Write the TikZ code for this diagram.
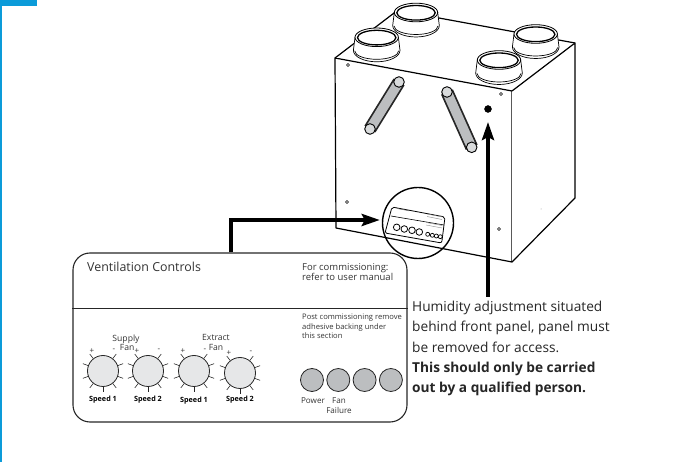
\documentclass[tikz,border=0pt]{standalone}
\usepackage{fontspec}
\setmainfont{Open Sans}
\usetikzlibrary{arrows.meta, positioning, calc}
\definecolor{edgeblue}{HTML}{0C9BD9}
\definecolor{knobgrey}{HTML}{E6E7E8}
\definecolor{ledgrey}{HTML}{BCBEC0}
\tikzset{
  boxline/.style={line width=1.2pt, line join=round, fill=white},
  panelbox/.style={draw=black!85, line width=1.1pt, rectangle, rounded corners=17pt, minimum width=334pt, minimum height=169pt, inner sep=0},
  knob/.style={draw=black!85, line width=0.8pt, circle, fill=knobgrey, minimum size=31pt, inner sep=0},
  led/.style={draw=black!85, line width=0.8pt, circle, fill=ledgrey, minimum size=23pt, inner sep=0},
  bigarrow/.style={-{Stealth[length=18pt, width=12pt, inset=3pt]}, line width=4pt, black},
  screw/.style={draw=black, circle, fill=white, line width=0.5pt, minimum size=3pt, inner sep=0},
  small/.style={inner sep=0, text=black!80}
}
\begin{document}
\begin{tikzpicture}[x=1pt, y=-1pt]
        \useasboundingbox (0,0) rectangle (673,462);
        % Blue page edge
        \fill[edgeblue] (0,0) rectangle (36.5,6);
        \fill[edgeblue] (0,0) rectangle (2.2,462);

        % Unit body
        \draw[boxline] (335,58) -- (512,91) -- (512,262) -- (336,228) -- cycle;
        \draw[boxline] (512,91) -- (575,43) -- (575,198) -- (512,262);
        \draw[boxline] (335,58) -- (397.5,10.4) -- (575,43);

        % Ducts on top
        \foreach \cx/\cy in {416/12.5, 535.7/34, 376.7/37.3, 499/60} {
          \begin{scope}[shift={(\cx,\cy)}]
            \draw[fill=white, line width=0.7pt] (-23.3,13) arc[start angle=180, end angle=0, x radius=23.3, y radius=11.5] -- (21.7,0) -- (-21.7,0) -- cycle;
            \draw[line width=0.7pt] (-22,13.5) arc[start angle=180, end angle=0, x radius=22, y radius=8.5];
            \draw[fill=white, line width=0.8pt] (0,0) ellipse[x radius=21.7, y radius=9.3];
            \draw[line width=1.3pt] (0,0.3) ellipse[x radius=19.2, y radius=7.3];
          \end{scope}
        }

        % Tubes on the front
        \foreach \ax/\ay/\bx/\by in {399/82/370/129, 447/92/471.7/147.3} {
          \draw[line width=13pt, black!85] (\ax,\ay) -- (\bx,\by);
          \draw[line width=9.5pt, ledgrey] (\ax,\ay) -- (\bx,\by);
          \draw[fill=knobgrey!70!ledgrey, line width=0.9pt] (\ax,\ay) circle[radius=5.3];
          \draw[fill=knobgrey!70!ledgrey, line width=0.9pt] (\bx,\by) circle[radius=5.3];
        }

        % Screws
        \node[screw] (screwa) at (348,65) {};
        \node[screw] (screwb) at (501,94) {};
        \node[screw] (screwc) at (347,202) {};
        \node[screw] (screwd) at (499,229) {};
        \fill[black!40] (541,209) circle[radius=0.5];
        \node[draw, circle, fill=black, minimum size=7pt, inner sep=0] (humdot) at (488,109) {};

        % Small panel in the circle
        \node[draw, circle, line width=1.4pt, minimum size=71pt, inner sep=0] (minicirc) at (418,223) {};
        \draw[line width=0.8pt, rounded corners=2pt] (392,207) -- (445,217) -- (441.7,243) -- (385,233) -- cycle;
        \draw[line width=0.6pt] (391,216) -- (444,225);
        \draw[line width=0.5pt, black!60] (397,208.5) -- (409,210.8);
        \draw[line width=0.4pt, black!45] (427,214) -- (442.5,217) (427,216.5) -- (442,219.5) (426,222.5) -- (442,225.5) (426,225) -- (442,228);
        \foreach \kx/\ky in {396.7/227.3, 404.3/229, 412/230.3, 419.3/232}
          \draw[line width=0.8pt] (\kx,\ky) circle[radius=3.3];
        \foreach \kx/\ky in {427.7/234.3, 432.3/235.3, 436.3/236, 440.3/236.7}
          \draw[line width=0.7pt] (\kx,\ky) circle[radius=2];

        % Ventilation panel
        \node[panelbox] (panel) at (240,337.5) {};
        \draw[black!85, line width=0.8pt] (panel.west |- 0,308) coordinate (divl) -- (divl -| panel.east);
        \node[small, anchor=west, font=\fontsize{12.4}{13}\selectfont] (vent) at (87,267) {Ventilation Controls};
        \node[small, anchor=north west, align=left, font=\fontsize{9.5}{10.4}\selectfont] (comm) at (302,263) {For commissioning:\\refer to user manual};
        \node[small, anchor=north west, align=left, font=\fontsize{7.6}{9.5}\selectfont] (post) at (302,314) {Post commissioning remove\\adhesive backing under\\this section};

        % Knobs
        \foreach \name/\kx/\ky/\txt/\ty in {ka/103/371/1/400, kb/148/371/2/400, kc/194/371/1/401, kd/240/373/2/400} {
          \node[knob] (\name) at (\kx,\ky) {};
          \foreach \a in {20,52,128,160,200,232,270,308,340}
            \draw[line width=0.6pt, black!85] (\name.\a) -- ([shift={(\a:5.5pt)}]\name.\a);
          \node[inner sep=0, font=\fontsize{7.2}{8}\selectfont\bfseries] (\name txt) at (\kx,\ty) {Speed \txt};
          \node[small, font=\fontsize{8}{8}\selectfont] (\name plus) at (\kx-11,\ky-19.5) {+};
          \node[small, font=\fontsize{8}{8}\selectfont] (\name minus) at (\kx+11,\ky-20.5) {-};
        }
        \node[small, align=center, font=\fontsize{8.6}{9.4}\selectfont] (supply) at (126,342.5) {Supply\\\ Fan};
        \node[small, align=center, font=\fontsize{8.6}{9.4}\selectfont] (extract) at (216,342.5) {Extract\\Fan};

        % Status lamps
        \node[led] (lpower) at (312,380) {};
        \node[led, right=2.5pt of lpower] (lfana) {};
        \node[led, right=2.5pt of lfana] (lfanb) {};
        \node[led, right=2.5pt of lfanb] (lfail) {};
        \node[small, font=\fontsize{8.1}{8.8}\selectfont] (power) at (313,401) {Power};
        \node[small, align=center, font=\fontsize{8.1}{9.4}\selectfont] (fanfail) at (339,405.5) {Fan\\Failure};

        % Humidity note
        \node[anchor=north west, inner sep=4pt, align=left, text=black!85, font=\fontsize{13.7}{20.2}\selectfont] (humtext) at (408,297) {Humidity adjustment situated\\behind front panel, panel must\\be removed for access.\\\textbf{This should only be carried}\\\textbf{out by a qualified person.}};

        % Arrows
        \coordinate (elbow) at (231,220);
        \coordinate (humtip) at (488,122);
        \draw[bigarrow, shorten >=2pt] (panel.north -| elbow) -- (elbow) -- (elbow -| minicirc.west);
        \draw[bigarrow] (humtext.north -| humdot) -- (humtip);

    \end{tikzpicture}
\end{document}
